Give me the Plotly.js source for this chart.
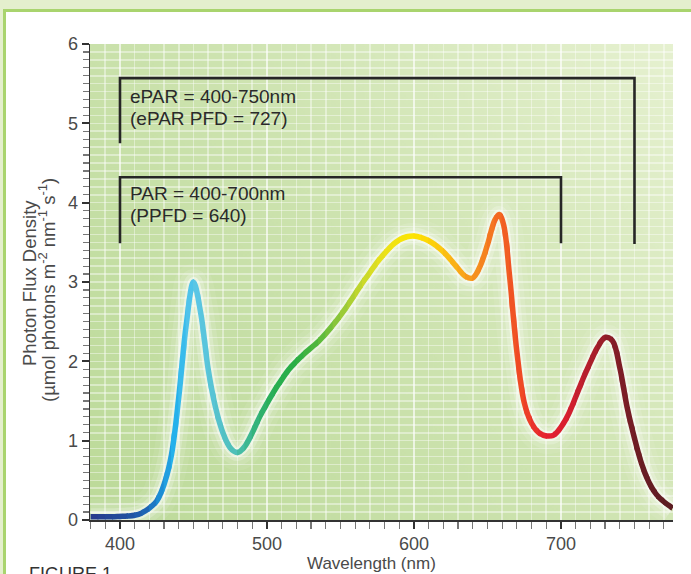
<!DOCTYPE html>
<html><head><meta charset="utf-8">
<script src="https://cdn.plot.ly/plotly-3.0.1.min.js"></script>
<style>
html,body{margin:0;padding:0;background:#e4efcd;width:691px;height:574px;overflow:hidden;}
#frame{position:absolute;left:3px;top:9px;width:688px;height:565px;background:#a9d46e;}
#chart{position:absolute;left:6px;top:12px;width:685px;height:562px;background:#fff;}
</style></head><body>
<div id="frame"></div><div id="chart"></div>
<script>
// ---- data ----
const wavelength = [380,385,390,395,400,405,410,415,420,425,430,435,440,445,450,455,460,465,470,475,480,485,490,495,500,505,510,515,520,525,530,535,540,545,550,555,560,565,570,575,580,585,590,595,600,605,610,615,620,625,630,635,640,645,650,655,658,661,665,670,675,680,685,690,695,700,705,710,715,720,725,730,735,740,745,750,755,760,765,770,776];
const pfd = [0.04,0.04,0.04,0.04,0.045,0.05,0.06,0.09,0.15,0.24,0.45,0.82,1.55,2.45,3.0,2.6,1.9,1.42,1.1,0.91,0.85,0.93,1.1,1.3,1.47,1.63,1.77,1.9,2.0,2.09,2.17,2.25,2.35,2.46,2.58,2.71,2.85,2.99,3.12,3.25,3.36,3.46,3.53,3.57,3.58,3.56,3.52,3.46,3.38,3.28,3.17,3.07,3.05,3.2,3.47,3.78,3.85,3.72,3.08,2.12,1.48,1.22,1.1,1.06,1.07,1.17,1.33,1.55,1.78,1.99,2.18,2.3,2.26,1.92,1.42,1.03,0.7,0.47,0.32,0.23,0.15];
const xTickVals = [400,500,600,700];
const yTickVals = [0,1,2,3,4,5,6];
const parRange = [400,700];
const eparRange = [400,750];
const parBracketY = [3.49,4.32,3.49];
const eparBracketY = [4.75,5.57,3.48];
const eparLines = ['ePAR = 400-750nm','(ePAR PFD = 727)'];
const parLines = ['PAR = 400-700nm','(PPFD = 640)'];
const xTitle = 'Wavelength (nm)';
const yTitleLines = ['Photon Flux Density','(µmol photons m<sup>-2</sup> nm<sup>-1</sup> s<sup>-1</sup>)'];
const figureLabel = 'FIGURE 1';

// ---- styling ----
const xRange = [379.6, 776.2], yRange = [0, 6];
const colorStops = [[380,'#283a8c'],[405,'#22519f'],[418,'#1f66b5'],[428,'#1d8fd6'],[438,'#25b3ec'],[450,'#5ac7e9'],[465,'#57c3d1'],[478,'#4ec0b8'],[492,'#35b37e'],[505,'#27ae52'],[520,'#2aae45'],[535,'#55b83c'],[550,'#93c83a'],[565,'#c6d82c'],[580,'#ebe11a'],[600,'#fde500'],[618,'#fcc70f'],[635,'#f8a01b'],[648,'#f58220'],[660,'#f26322'],[672,'#ef4b25'],[690,'#e5202f'],[705,'#d61f2f'],[720,'#b01e2c'],[735,'#861d27'],[755,'#6a1d24'],[776,'#5b1d21']];
function hex(h){return [1,3,5].map(i=>parseInt(h.substr(i,2),16));}
function colorAt(w){
  if(w<=colorStops[0][0]) return colorStops[0][1];
  for(let i=0;i<colorStops.length-1;i++){
    const [a,ca]=colorStops[i],[b,cb]=colorStops[i+1];
    if(w<=b){const t=(w-a)/(b-a),A=hex(ca),B=hex(cb);
      return 'rgb('+A.map((v,k)=>Math.round(v+(B[k]-v)*t)).join(',')+')';}
  }
  return colorStops[colorStops.length-1][1];
}
const FONT = 'Liberation Sans, Arial, Helvetica, sans-serif';
const TXT = '#4a4a4a';
const GRID = 'rgba(255,255,255,0.42)';

// background gradient image
const cv = document.createElement('canvas'); cv.width=600; cv.height=480;
const cx = cv.getContext('2d');
const g = cx.createLinearGradient(0,480,600,0);
g.addColorStop(0,'#bcda99'); g.addColorStop(0.5,'#cde3af'); g.addColorStop(1,'#e6f1d0');
cx.fillStyle=g; cx.fillRect(0,0,600,480);
const bgURL = cv.toDataURL('image/png');

const traces = [];
const layout = {
  width:685, height:562,
  margin:{l:84,r:18,t:32,b:54},
  paper_bgcolor:'#ffffff', plot_bgcolor:'rgba(0,0,0,0)',
  showlegend:false,
  font:{family:FONT,color:TXT},
  xaxis:{range:xRange, domain:[0,1], anchor:'y', tickvals:xTickVals, ticks:'outside', ticklen:7, tickwidth:2, tickcolor:'#333',
    showline:true, linecolor:'#333', linewidth:1.5, showgrid:true, gridcolor:GRID, gridwidth:1.6, zeroline:false,
    tickfont:{size:18,color:TXT,family:FONT},
    minor:{dtick:10, tick0:0, ticks:'outside', ticklen:7, tickwidth:1.2, tickcolor:'#777', showgrid:true, gridcolor:GRID, gridwidth:1.6}},
  yaxis:{range:yRange, anchor:'x', tickvals:yTickVals, ticks:'outside', ticklen:7, tickwidth:2, tickcolor:'#333',
    showline:true, linecolor:'#333', linewidth:1.5, showgrid:false, zeroline:false,
    tickfont:{size:18,color:TXT,family:FONT},
    minor:{dtick:0.1, tick0:0, ticks:'outside', ticklen:6, tickwidth:1.2, tickcolor:'#777', showgrid:false}},
  yaxis2:{range:yRange, overlaying:'y', anchor:'x', side:'left', showticklabels:false, ticks:'', showline:false, zeroline:false,
    dtick:1, showgrid:true, gridcolor:GRID, gridwidth:1.6,
    minor:{dtick:0.1, tick0:0, showgrid:true, gridcolor:GRID, gridwidth:1.6, ticks:''}},
  images:[{source:bgURL, xref:'x', yref:'y', x:xRange[0], y:yRange[1], sizex:xRange[1]-xRange[0], sizey:yRange[1]-yRange[0], sizing:'stretch', layer:'below', xanchor:'left', yanchor:'top'}],
  shapes:[], annotations:[]
};

// glow under the curve
[[36,0.07],[26,0.12],[17,0.22],[10,0.45]].forEach(([w,o])=>traces.push({
  x:wavelength, y:pfd, xaxis:'x', yaxis:'y2', mode:'lines', hoverinfo:'skip',
  line:{shape:'spline', width:w, color:'rgba(255,255,255,'+o+')', simplify:false}}));

// coloured curve: same data drawn in narrow wavelength slices (one hidden x axis per slice)
const bounds=[xRange[0]]; for(let b=385;b<xRange[1];b+=5) bounds.push(b); bounds.push(xRange[1]);
const span = xRange[1]-xRange[0];
for(let i=0;i<bounds.length-1;i++){
  const a=Math.max(xRange[0],bounds[i]-0.35), b=Math.min(xRange[1],bounds[i+1]+0.35);
  const id=i+2;
  layout['xaxis'+id]={domain:[Math.max(0,(a-xRange[0])/span),Math.min(1,(b-xRange[0])/span)], range:[a,b], anchor:'y', visible:false, showgrid:false, zeroline:false, fixedrange:true};
  traces.push({x:wavelength, y:pfd, xaxis:'x'+id, yaxis:'y', mode:'lines', hoverinfo:'skip',
    line:{shape:'spline', width:5.5, color:colorAt((bounds[i]+bounds[i+1])/2), simplify:false}});
}

// PAR / ePAR brackets
function bracketPath(r,ys){return 'M'+r[0]+','+ys[0]+' L'+r[0]+','+ys[1]+' L'+r[1]+','+ys[1]+' L'+r[1]+','+ys[2];}
layout.shapes.push({type:'path', xref:'x', yref:'y', layer:'above', path:bracketPath(eparRange,eparBracketY), line:{color:'#262626',width:2.6}});
layout.shapes.push({type:'path', xref:'x', yref:'y', layer:'above', path:bracketPath(parRange,parBracketY), line:{color:'#262626',width:2.6}});

function ann(text,x,y,opts){return Object.assign({text:text,x:x,y:y,xref:'x',yref:'y',showarrow:false,xanchor:'left',yanchor:'middle',borderpad:0,font:{size:19,color:'#2a2a2a',family:FONT}},opts||{});}
layout.annotations.push(ann(eparLines[0],406,5.34));
layout.annotations.push(ann(eparLines[1],406,5.065));
layout.annotations.push(ann(parLines[0],406,4.11));
layout.annotations.push(ann(parLines[1],406,3.835));
// axis titles
layout.annotations.push({text:xTitle, xref:'paper', yref:'paper', x:(371-90)/583, y:(520-563)/476, xanchor:'center', yanchor:'middle', showarrow:false, font:{size:17,color:TXT,family:FONT}});
layout.annotations.push({text:yTitleLines[0], xref:'paper', yref:'paper', x:(29-90)/583, y:(520-283)/476, xanchor:'center', yanchor:'middle', textangle:-90, showarrow:false, font:{size:18.5,color:TXT,family:FONT}});
layout.annotations.push({text:yTitleLines[1], xref:'paper', yref:'paper', x:(47-90)/583, y:(520-290)/476, xanchor:'center', yanchor:'middle', textangle:-90, showarrow:false, font:{size:18.5,color:TXT,family:FONT}});
layout.annotations.push({text:figureLabel, xref:'paper', yref:'paper', x:(27-90)/583, y:(520-562)/476, xanchor:'left', yanchor:'top', showarrow:false, font:{size:18,color:'#333',family:FONT}});

Plotly.newPlot('chart', traces, layout, {staticPlot:true, displayModeBar:false});
</script></body></html>
